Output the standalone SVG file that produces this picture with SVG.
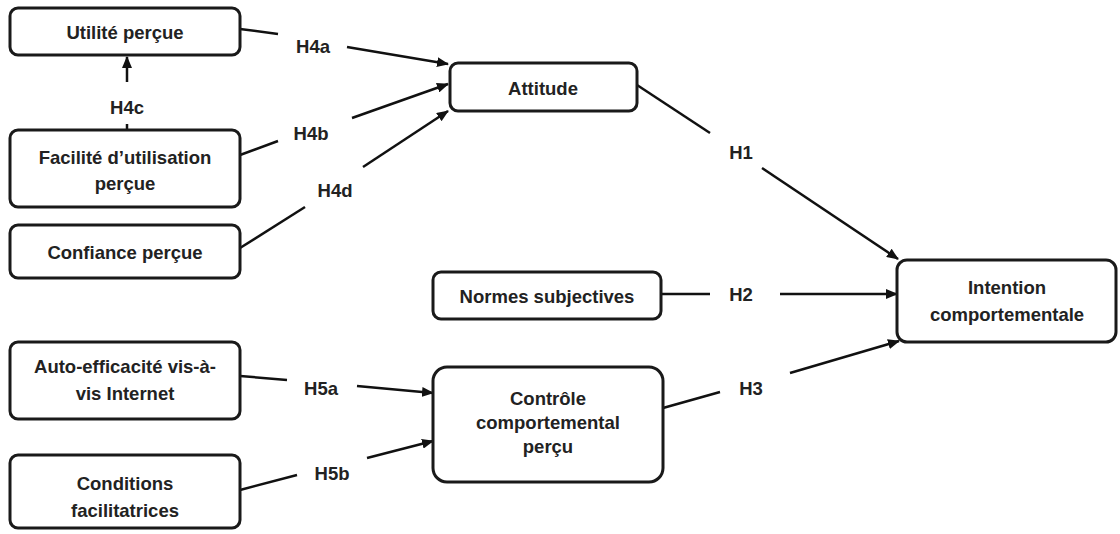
<svg xmlns="http://www.w3.org/2000/svg" width="1120" height="534" viewBox="0 0 1120 534">
<style>
.box{fill:#fff;stroke:#1a1a1a;stroke-width:3}
.t{font-family:"Liberation Sans",Arial,sans-serif;font-weight:bold;font-size:18.5px;fill:#222;text-anchor:middle;dominant-baseline:central}
.c{stroke:#111;stroke-width:2.5;fill:none}
.a{marker-end:url(#ah)}
</style>
<defs>
<marker id="ah" viewBox="0 0 12 10" refX="11" refY="5" markerWidth="12" markerHeight="10" markerUnits="userSpaceOnUse" orient="auto">
<path d="M0,0 L12,5 L0,10 z" fill="#111"/>
</marker>
</defs>
<rect width="1120" height="534" fill="#fff"/>
<g id="connectors">
<line class="c" x1="127" y1="130" x2="127" y2="124"/>
<line class="c a" x1="127" y1="82" x2="127" y2="57"/>
<text class="t" x="127" y="107">H4c</text>
<line class="c" x1="240" y1="29" x2="278" y2="34"/>
<line class="c a" x1="347" y1="47" x2="448" y2="64"/>
<text class="t" x="313" y="46">H4a</text>
<line class="c" x1="240" y1="155" x2="278" y2="141"/>
<line class="c a" x1="352" y1="118" x2="448" y2="84"/>
<text class="t" x="311" y="133">H4b</text>
<line class="c" x1="240" y1="248" x2="305" y2="207"/>
<line class="c a" x1="363" y1="167" x2="448" y2="111"/>
<text class="t" x="335" y="190">H4d</text>
<line class="c" x1="637" y1="85" x2="710" y2="133"/>
<line class="c a" x1="762" y1="168" x2="898" y2="259"/>
<text class="t" x="741" y="152">H1</text>
<line class="c" x1="662" y1="294" x2="710" y2="294"/>
<line class="c a" x1="780" y1="294" x2="897" y2="294"/>
<text class="t" x="741" y="294">H2</text>
<line class="c" x1="663" y1="408" x2="720" y2="392"/>
<line class="c a" x1="790" y1="373" x2="899" y2="341"/>
<text class="t" x="751" y="388">H3</text>
<line class="c" x1="240" y1="376" x2="287" y2="380"/>
<line class="c a" x1="357" y1="386" x2="433" y2="393"/>
<text class="t" x="321" y="388">H5a</text>
<line class="c" x1="240" y1="490" x2="297" y2="475"/>
<line class="c a" x1="367" y1="458" x2="433" y2="441"/>
<text class="t" x="332" y="473">H5b</text>
</g>
<g id="utilite">
<rect class="box" x="10" y="8" width="230" height="47" rx="8"/>
<text class="t" x="125" y="32">Utilité perçue</text>
</g>
<g id="facilite">
<rect class="box" x="10" y="130" width="230" height="77" rx="8"/>
<text class="t" x="125" y="157">Facilité d’utilisation</text>
<text class="t" x="125" y="183">perçue</text>
</g>
<g id="confiance">
<rect class="box" x="10" y="225" width="230" height="53" rx="8"/>
<text class="t" x="125" y="252">Confiance perçue</text>
</g>
<g id="attitude">
<rect class="box" x="450" y="63" width="187" height="48" rx="8"/>
<text class="t" x="543" y="88">Attitude</text>
</g>
<g id="normes">
<rect class="box" x="433" y="272" width="228" height="47" rx="8"/>
<text class="t" x="547" y="296">Normes subjectives</text>
</g>
<g id="intention">
<rect class="box" x="897" y="260" width="219" height="82" rx="10"/>
<text class="t" x="1007" y="287">Intention</text>
<text class="t" x="1007" y="314">comportementale</text>
</g>
<g id="controle">
<rect class="box" x="433" y="367" width="230" height="115" rx="14"/>
<text class="t" x="548" y="398">Contrôle</text>
<text class="t" x="548" y="422">comportemental</text>
<text class="t" x="548" y="446">perçu</text>
</g>
<g id="auto">
<rect class="box" x="10" y="342" width="230" height="77" rx="8"/>
<text class="t" x="125" y="366">Auto-efficacité vis-à-</text>
<text class="t" x="125" y="393">vis Internet</text>
</g>
<g id="conditions">
<rect class="box" x="10" y="455" width="230" height="73" rx="8"/>
<text class="t" x="125" y="483">Conditions</text>
<text class="t" x="125" y="510">facilitatrices</text>
</g>
</svg>
